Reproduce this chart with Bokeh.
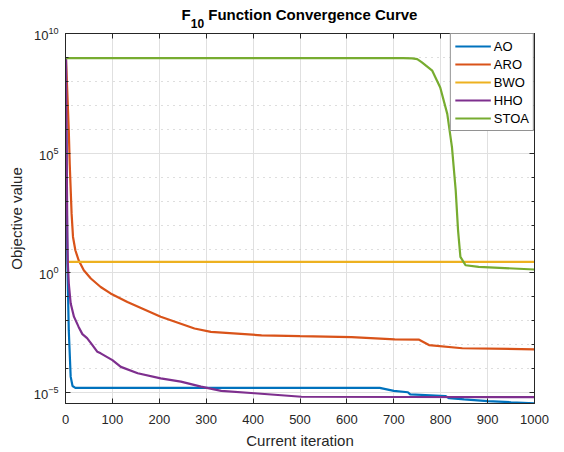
from bokeh.plotting import figure
from bokeh.models import (Range1d, FixedTicker, LinearAxis, Legend,
                          LegendItem, CustomJSTickFormatter, Div)
from bokeh.layouts import column
from bokeh.embed import file_html
from bokeh.resources import INLINE

FONT = "Liberation Sans"

# ---- data ----
ao_x = [1, 2, 3, 4, 7, 11, 15, 21, 670, 700, 730, 735, 810, 818, 850, 900, 950, 1000]
ao_y = [8.9e8, 1.0e6, 3.2e2, 2.5, 4.0e-3, 4.7e-5, 1.9e-5, 1.6e-5, 1.6e-5, 1.2e-5,
        1.05e-5, 8.5e-6, 7.3e-6, 5.9e-6, 5.3e-6, 4.5e-6, 4.0e-6, 3.6e-6]

aro_x = [1, 4, 7, 9, 13, 16, 21, 28, 39, 54, 75, 96, 132, 203, 275, 310, 418, 500,
         610, 702, 753, 775, 846, 1000]
aro_y = [8.9e8, 3.0e7, 8.9e5, 3.6e4, 3.0e2, 32, 8.9, 3.4, 1.3, 0.59, 0.26, 0.14,
         6.2e-2, 1.5e-2, 4.8e-3, 3.5e-3, 2.5e-3, 2.3e-3, 2.1e-3, 1.7e-3, 1.66e-3,
         9.8e-4, 7.2e-4, 6.5e-4]

bwo_x = [5, 1000]
bwo_y = [2.9, 2.9]

hho_x = [1, 2, 4, 5, 7, 11, 18, 28, 36, 46, 57, 68, 75, 100, 118, 154, 203, 246,
         289, 332, 403, 503, 1000]
hho_y = [8.9e8, 1.0e6, 32, 2.5, 0.36, 5.4e-2, 1.5e-2, 5.6e-3, 2.8e-3, 1.9e-3,
         1.0e-3, 5.1e-4, 4.4e-4, 2.3e-4, 1.2e-4, 6.5e-5, 4.0e-5, 2.9e-5, 1.8e-5,
         1.2e-5, 9.5e-6, 6.8e-6, 6.5e-6]

stoa_x = [1, 720, 739, 750, 760, 782, 799, 814, 824, 832, 837, 842, 853, 881, 1000]
stoa_y = [9.3e8, 9.3e8, 9.2e8, 8.5e8, 6.2e8, 2.8e8, 5.6e7, 4.4e6, 1.8e5, 2.8e3, 60,
          4.7, 2.1, 1.8, 1.4]

names = ["AO", "ARO", "BWO", "HHO", "STOA"]
colors = ["#0072BD", "#D95319", "#EDB120", "#7E2F8E", "#77AC30"]

x_ticks = [0, 100, 200, 300, 400, 500, 600, 700, 800, 900, 1000]
y_major = [1e-5, 1e0, 1e5, 1e10]
y_minor = [1e-4, 1e-3, 1e-2, 1e-1, 1e1, 1e2, 1e3, 1e4, 1e6, 1e7, 1e8, 1e9]

title_main = "F"
title_sub = "10"
title_rest = "Function Convergence Curve"

W, H = 564, 452
TITLE_H = 25
p = figure(width=W, height=H - TITLE_H, y_axis_type="log", output_backend="svg",
           toolbar_location=None, x_range=Range1d(0, 1000),
           y_range=Range1d(3.55e-6, 1e10),
           min_border_left=65, min_border_right=30, min_border_top=8,
           min_border_bottom=49)
p.outline_line_color = "#262626"
p.outline_line_width = 1
p.background_fill_color = "white"
p.border_fill_color = None

series = [(ao_x, ao_y), (aro_x, aro_y), (bwo_x, bwo_y), (hho_x, hho_y), (stoa_x, stoa_y)]
items = []
for (xs, ys), name, c in zip(series, names, colors):
    r = p.line(xs, ys, line_color=c, line_width=2.2)
    items.append(LegendItem(label=name, renderers=[r]))

# axes
xa = p.xaxis[0]
ya = p.yaxis[0]
xa.ticker = FixedTicker(ticks=x_ticks)
ya.ticker = FixedTicker(ticks=y_major, minor_ticks=y_minor)
for ax in (xa, ya):
    ax.axis_line_color = "#262626"
    ax.major_tick_line_color = "#262626"
    ax.minor_tick_line_color = "#262626"
    ax.major_tick_in = 5
    ax.major_tick_out = 0
    ax.minor_tick_in = 3
    ax.minor_tick_out = 0
    ax.major_label_text_font = FONT
    ax.major_label_text_font_size = "13px"
    ax.major_label_text_color = "#262626"
    ax.axis_label_text_font = FONT
    ax.axis_label_text_font_size = "15px"
    ax.axis_label_text_font_style = "normal"
    ax.axis_label_text_color = "#262626"
xa.minor_tick_line_color = None
xa.axis_label = "Current iteration"
ya.axis_label = "Objective value"
xa.major_label_standoff = 11
xa.axis_label_standoff = 5
ya.major_label_standoff = 7
ya.axis_label_standoff = 6

# top / right box ticks (no labels)
blank = CustomJSTickFormatter(code="return ''")
top = LinearAxis(ticker=FixedTicker(ticks=x_ticks), formatter=blank,
                 major_tick_in=5, major_tick_out=0, minor_tick_line_color=None,
                 axis_line_color="#262626", major_tick_line_color="#262626",
                 major_label_standoff=0, major_label_text_font_size="1px")
right = LinearAxis(ticker=FixedTicker(ticks=y_major, minor_ticks=y_minor),
                   formatter=blank, major_tick_in=5, major_tick_out=0,
                   minor_tick_in=3, minor_tick_out=0, axis_line_color="#262626",
                   major_tick_line_color="#262626", minor_tick_line_color="#262626",
                   major_label_standoff=0, major_label_text_font_size="1px")
p.add_layout(top, "above")
p.add_layout(right, "right")

# grids
p.xgrid.grid_line_color = "#e0e0e0"
p.xgrid.ticker = FixedTicker(ticks=x_ticks)
p.ygrid.ticker = FixedTicker(ticks=y_major, minor_ticks=y_minor)
p.ygrid.grid_line_color = "#e0e0e0"
p.ygrid.minor_grid_line_color = "#bdbdbd"
p.ygrid.minor_grid_line_dash = "1 5"

# legend
leg = Legend(items=items, location="top_right", border_line_color="#262626",
             border_line_width=1, background_fill_color="white", background_fill_alpha=1,
             label_text_font=FONT, label_text_font_size="13px", label_text_color="black",
             glyph_width=36, glyph_height=16, label_height=16, spacing=2, padding=4,
             margin=0, label_standoff=3)
p.add_layout(leg, "center")

title = Div(
    text=(f'<div style="width:469px;margin-left:65px;padding-top:6px;text-align:center;'
          f'font-family:\'{FONT}\';font-weight:bold;font-size:15px;line-height:18px;'
          f'color:black;white-space:nowrap;overflow:visible;">{title_main}'
          f'<sub style="font-size:12px;line-height:0;vertical-align:-8px;">{title_sub}</sub>'
          f' {title_rest}</div>'),
    width=W, height=TITLE_H, margin=(0, 0, 0, 0),
    styles={"overflow": "visible", "z-index": "10"})

layout = column(title, p, spacing=0)
open("out.html", "w").write(file_html(layout, INLINE))
